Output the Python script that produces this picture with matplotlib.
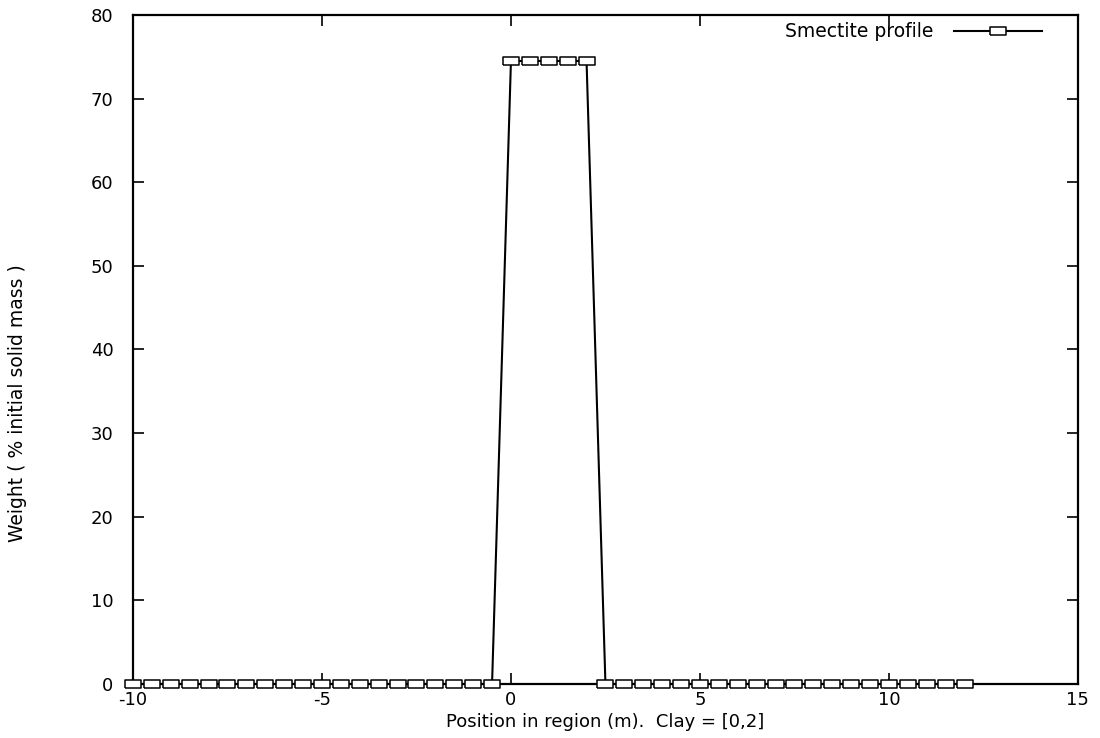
import numpy as np
import matplotlib
matplotlib.use("Agg")
import matplotlib.pyplot as plt

# Smectite weight profile along the region
x_left = [-10, -9.5, -9, -8.5, -8, -7.5, -7, -6.5, -6, -5.5,
          -5, -4.5, -4, -3.5, -3, -2.5, -2, -1.5, -1, -0.5]
x_clay = [0, 0.5, 1, 1.5, 2]
x_right = [2.5, 3, 3.5, 4, 4.5, 5, 5.5, 6, 6.5, 7,
           7.5, 8, 8.5, 9, 9.5, 10, 10.5, 11, 11.5, 12]
w_left = [0] * len(x_left)
w_clay = [74.5] * len(x_clay)
w_right = [0] * len(x_right)

x_vals = x_left + x_clay + x_right
w_vals = w_left + w_clay + w_right

plt.rcParams['font.family'] = ['DejaVu Sans']
plt.rcParams['axes.unicode_minus'] = False

fig = plt.figure(figsize=(11, 7.38), dpi=100)
ax = fig.add_axes([0.1209, 0.0732, 0.859, 0.9065])

# flat rectangle marker like the gnuplot box
box = [(-1, -0.5), (1, -0.5), (1, 0.5), (-1, 0.5), (-1, -0.5)]
ax.plot(x_vals, w_vals, color='black', lw=1.5, marker=box, markersize=11,
        markerfacecolor='white', markeredgecolor='black', markeredgewidth=1.1,
        label='Smectite profile', clip_on=False, zorder=3)

ax.set_xlim(-10, 15)
ax.set_ylim(0, 80)
ax.set_xticks([-10, -5, 0, 5, 10, 15])
ax.set_yticks(range(0, 81, 10))
ax.tick_params(direction='in', top=True, right=True, length=8, width=1.2,
               labelsize=13)
ax.tick_params(axis='y', pad=14)
ax.tick_params(axis='x', pad=5)
for s in ax.spines.values():
    s.set_linewidth(1.6)

ax.set_xlabel('Position in region (m).  Clay = [0,2]', fontsize=13, labelpad=3)
ax.set_ylabel('Weight ( % initial solid mass )', fontsize=13.5)
ax.yaxis.set_label_coords(-0.112, 0.42)

leg = ax.legend(loc='center right', bbox_to_anchor=(0.962, 0.975),
                frameon=False, fontsize=13.5, markerfirst=False,
                handlelength=4.7, borderaxespad=0, borderpad=0,
                handletextpad=1.1)

fig.savefig('out.png', dpi=100)
